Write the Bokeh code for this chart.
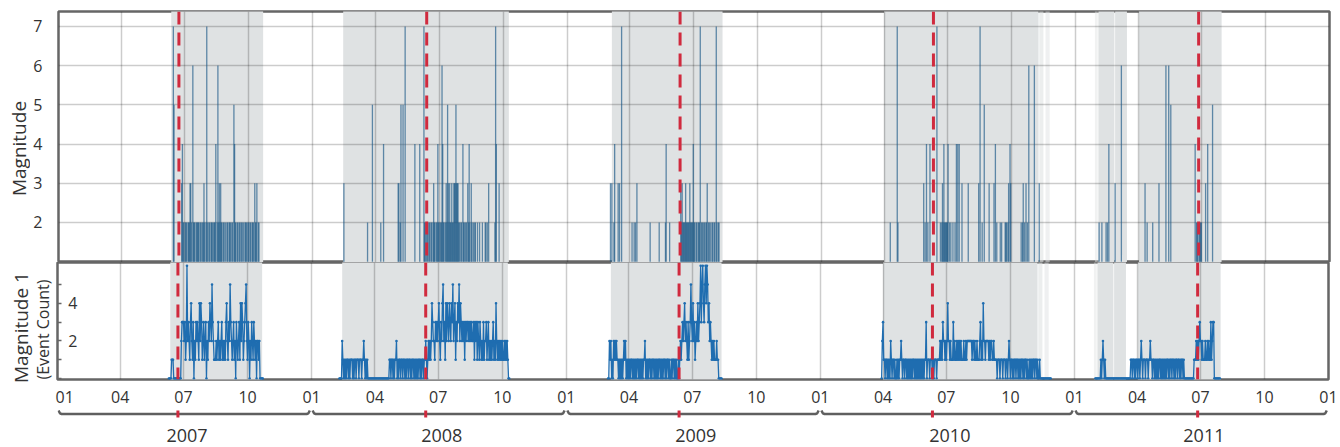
from datetime import datetime, timedelta
import math
from bokeh.plotting import figure
from bokeh.layouts import column, row
from bokeh.models import (Range1d, FixedTicker, MonthsTicker, DatetimeTickFormatter,
                          Span, ColumnDataSource)
from bokeh.embed import file_html
from bokeh.resources import INLINE
from bokeh.core.properties import value

# ---------------- data ----------------
# each season: first day, then one digit per day
season_start = ["2007-06-10", "2008-02-10", "2009-03-02", "2010-03-30", "2011-01-31"]

# daily maximum magnitude (0 = no event)
magnitude_2007 = ("0000075000 0000000342 2022202223 3206222022 2220220223 2027202202 2202224026 "
                  "2323220220 2022022202 2054220220 2202202022 2022022022 2032230220 000000")
magnitude_2008 = ("0000030000 0000000000 0000000000 0000000002 0000005000 0000000020 0040000000 "
                  "0000000000 0003302500 5007000000 0000000400 0000400000 7220220220 2202322022 "
                  "4220226422 0232532322 3223335333 2202204220 2203242032 0202200200 2000200022 "
                  "0203000000 0027400030 0000000000 00000")
magnitude_2009 = ("0030300240 0003030070 0000000000 0002002020 3000000000 0000000002 0000000000 "
                  "0020000000 0240000200 0000000000 0003232222 3222223222 2422022022 2702202202 "
                  "2302202022 0220720220 0000")
magnitude_2010 = ("00 0000000002 0000000007 2000000000 0000000000 0000000000 0000000302 0402004000 "
                  "0000007000 0202324222 2240202002 0020404040 0030000000 0300000000 0000003070 "
                  "0200500000 0300000030 4020000202 0000222023 0430000000 0000000202 3020302060 "
                  "0000006000 0003000000 0000000000 00")
magnitude_2011 = ("0000200020 0000202040 0000000300 0000006000 0000000000 0000000000 0000000000 "
                  "3002000000 0200000000 3000000000 6000600500 0000000000 0000000000 0000000000 "
                  "0040222022 2200000300 4000000500 0000000000")

# daily count of magnitude-1 events
count_2007 = ("0000111000 0000000023 3323126232 1342130213 2321424312 3123021324 3253211121 "
              "2312123121 2134213253 2123120321 2314243123 4521320213 2132120221 200000")
count_2008 = ("0000210101 0110101110 1011011101 1101121010 1000000000 0000000000 0000000000 "
              "0011011010 1120101101 1011010110 1101011010 1010110101 1011210121 2124322132 "
              "3234213245 2314243243 2435234132 4352432323 1323323232 3223132313 2132121312 "
              "2312312121 2312142121 2121211212 12100")
count_2009 = ("0021201021 2121101010 1012120101 0101101010 1011010101 0112010101 1010110101 "
              "0101101010 1101011010 0101101010 0101212323 4232131235 3242312324 2346356435 "
              "6465342321 2121112110 0000")
count_2010 = ("02 3110110101 0210110100 1010112101 1011010101 0101101010 1010101010 1130111011 "
              "1010111011 1121213221 2124221211 1312112121 2121112112 1222222212 2121121112 "
              "3121422122 2212122112 1111011101 1101110110 1210110101 1011010101 1010110100 "
              "1010101101 1010010000 0000000000 00")
count_2011 = ("0000000010 1210100000 0000000000 0000000000 0000000000 0110110101 1011012101 "
              "1101110112 1101101010 1011010101 0101101011 0110101101 1010110100 0000000000 "
              "0011121212 3221211121 1212113123 3000000000")

magnitude_series = [magnitude_2007, magnitude_2008, magnitude_2009, magnitude_2010, magnitude_2011]
count_series = [count_2007, count_2008, count_2009, count_2010, count_2011]

# shaded observation periods
shade_start = ["2007-06-12", "2008-02-14", "2009-03-06", "2010-04-01", "2010-11-10",
               "2010-11-19", "2011-01-29", "2011-02-03", "2011-02-27", "2011-04-02"]
shade_end = ["2007-10-22", "2008-10-09", "2009-08-12", "2010-11-09", "2010-11-16",
             "2010-11-25", "2011-02-02", "2011-02-26", "2011-03-16", "2011-07-30"]
shade_alpha = [1, 1, 1, 1, 0.6, 0.5, 0.45, 1, 1, 1]

# marked event dates (red dashed lines)
event_dates = ["2007-06-23", "2008-06-13", "2009-06-12", "2010-06-11", "2011-06-27"]

years = ["2007", "2008", "2009", "2010", "2011"]
mag_ticks = [2, 3, 4, 5, 6, 7]
count_ticks = [0, 1, 2, 3, 4, 5]
count_labels = {0: "", 1: "", 2: "2", 3: "", 4: "4", 5: ""}
top_title = "Magnitude"
bottom_title = "Magnitude 1"
bottom_subtitle = "(Event Count)"

# ---------------- helpers ----------------
def dt(s):
    return datetime.strptime(s, "%Y-%m-%d")

def ms(d):
    return (d - datetime(1970, 1, 1)).total_seconds() * 1000.0

def daily(start, s):
    digits = s.replace(" ", "")
    d0 = dt(start)
    return [d0 + timedelta(days=i) for i in range(len(digits))], [int(c) for c in digits]

FONT = "Open Sans"
TXT = "#333333"
FRAME = "#666666"
SHADE = "#dfe2e3"
RED = "#d02a3e"
X0, X1 = datetime(2007, 1, 1), datetime(2012, 1, 1)
xr = Range1d(X0, X1)
month_ticker = MonthsTicker(months=[0, 3, 6, 9])
BASE = dict(output_backend="svg", toolbar_location=None,
            background_fill_color="white", border_fill_color="white")
common = dict(x_axis_type="datetime", x_range=xr, frame_width=1271, min_border_right=12, **BASE)

def blank(fig):
    fig.axis.visible = False
    fig.grid.visible = False
    fig.outline_line_color = None

def title_panel(w, h):
    f = figure(x_range=Range1d(0, w), y_range=Range1d(h, 0), frame_width=w, frame_height=h,
               min_border=0, **BASE)
    blank(f)
    return f

shade_src = ColumnDataSource(dict(left=[dt(s) for s in shade_start],
                                  right=[dt(s) for s in shade_end],
                                  alpha=shade_alpha))

# ---------------- top panel: magnitude ----------------
top = figure(y_range=Range1d(0.98, 7.38), frame_height=251, min_border_top=11,
             min_border_bottom=0, min_border_left=27, **common)
top.quad(left="left", right="right", bottom=-100, top=100, source=shade_src,
         fill_color=SHADE, fill_alpha="alpha", line_color=None, level="image")
sx, sm = [], []
for start, s in zip(season_start, magnitude_series):
    xs, vs = daily(start, s)
    for x, v in zip(xs, vs):
        if v > 0:
            sx.append(x)
            sm.append(v)
top.segment(x0=sx, y0=[1] * len(sx), x1=sx, y1=sm, line_color="#185686",
            line_alpha=0.66, line_width=1.3)

top.xaxis.visible = False
top.xgrid.ticker = month_ticker
top.ygrid.ticker = FixedTicker(ticks=mag_ticks)
for g in (top.xgrid, top.ygrid):
    g.grid_line_color = "black"
    g.grid_line_alpha = 0.2
    g.grid_line_width = 1.5
top.yaxis.ticker = FixedTicker(ticks=mag_ticks)
top.yaxis.axis_line_color = None
top.yaxis.major_tick_line_color = None
top.yaxis.minor_tick_line_color = None
top.yaxis.major_label_text_font = FONT
top.yaxis.major_label_text_font_size = "16px"
top.yaxis.major_label_text_color = TXT
top.yaxis.major_label_standoff = 10
top.outline_line_color = FRAME
top.outline_line_width = 2.5
top.outline_line_alpha = 1

ttl_top = title_panel(30, 262)
ttl_top.text(x=[18], y=[137], text=[top_title], angle=math.pi / 2, text_align="center",
             text_baseline="middle", text_font=value(FONT), text_font_size="19px",
             text_color=TXT)

# ---------------- bottom panel: event counts ----------------
bot = figure(y_range=Range1d(-0.05, 6.17), frame_height=117, min_border_top=0,
             min_border_bottom=28, min_border_left=2, **common)
bot.quad(left="left", right="right", bottom=-100, top=100, source=shade_src,
         fill_color=SHADE, fill_alpha="alpha", line_color=None, level="image")
for start, s in zip(season_start, count_series):
    xs, vs = daily(start, s)
    bot.line(xs, vs, line_color="#1f6db0", line_width=1.3)
    bot.scatter(xs, vs, size=2.6, fill_color="#1f6db0", line_color=None)

bot.ygrid.visible = False
bot.xgrid.ticker = month_ticker
bot.xgrid.grid_line_color = "black"
bot.xgrid.grid_line_alpha = 0.2
bot.xgrid.grid_line_width = 1.5
bot.xaxis.ticker = month_ticker
bot.xaxis.formatter = DatetimeTickFormatter(months="%m", days="%m", years="%m")
bot.xaxis.axis_line_color = None
bot.xaxis.major_tick_line_color = None
bot.xaxis.minor_tick_line_color = None
bot.xaxis.major_label_text_font = FONT
bot.xaxis.major_label_text_font_size = "16px"
bot.xaxis.major_label_text_color = TXT
bot.xaxis.major_label_standoff = 5
bot.yaxis.ticker = FixedTicker(ticks=count_ticks)
bot.yaxis.major_label_overrides = count_labels
bot.yaxis.axis_line_color = None
bot.yaxis.major_tick_in = 4
bot.yaxis.major_tick_out = 0
bot.yaxis.major_tick_line_color = FRAME
bot.yaxis.major_tick_line_width = 1.5
bot.yaxis.minor_tick_line_color = None
bot.yaxis.major_label_standoff = -20
bot.yaxis.major_label_text_font = FONT
bot.yaxis.major_label_text_font_size = "16px"
bot.yaxis.major_label_text_color = TXT
bot.outline_line_color = FRAME
bot.outline_line_width = 2.5
bot.outline_line_alpha = 1

ttl_bot = title_panel(55, 135)
ttl_bot.text(x=[20], y=[65], text=[bottom_title], angle=math.pi / 2, text_align="center",
             text_baseline="middle", text_font=value(FONT), text_font_size="19px",
             text_color=TXT)
ttl_bot.text(x=[42], y=[67], text=[bottom_subtitle], angle=math.pi / 2, text_align="center",
             text_baseline="middle", text_font=value(FONT), text_font_size="16px",
             text_color=TXT)

for fig in (top, bot):
    for e in event_dates:
        fig.add_layout(Span(location=ms(dt(e)), dimension="height", line_color=RED,
                            line_width=3, line_dash="13 8"))

# ---------------- year brackets ----------------
brk = figure(y_range=Range1d(40, 0), frame_height=40, min_border_top=0, min_border_bottom=0,
             min_border_left=57, **common)
blank(brk)
bxs, bys, lx = [], [], []
for y in years:
    a, b = datetime(int(y), 1, 1), datetime(int(y) + 1, 1, 1)
    bxs.append([a + timedelta(days=1.5), a + timedelta(days=3.5), a + timedelta(days=6),
                b - timedelta(days=7), b - timedelta(days=4.5), b - timedelta(days=2.5)])
    bys.append([3, 5.8, 6.5, 6.5, 5.8, 3])
    lx.append(datetime(int(y), 7, 6))
brk.multi_line(bxs, bys, line_color="#5f5f5f", line_width=2.5)
ev = [dt(e) for e in event_dates]
brk.segment(x0=ev, y0=[3] * 5, x1=ev, y1=[10] * 5, line_color=RED, line_width=3)
brk.text(x=lx, y=[27.5] * 5, text=years, text_align="center", text_baseline="middle",
         text_font=value(FONT), text_font_size="18px", text_color=TXT)

layout = column(row(ttl_top, top, spacing=0), row(ttl_bot, bot, spacing=0), brk, spacing=0)
open("out.html", "w").write(file_html(layout, INLINE))
